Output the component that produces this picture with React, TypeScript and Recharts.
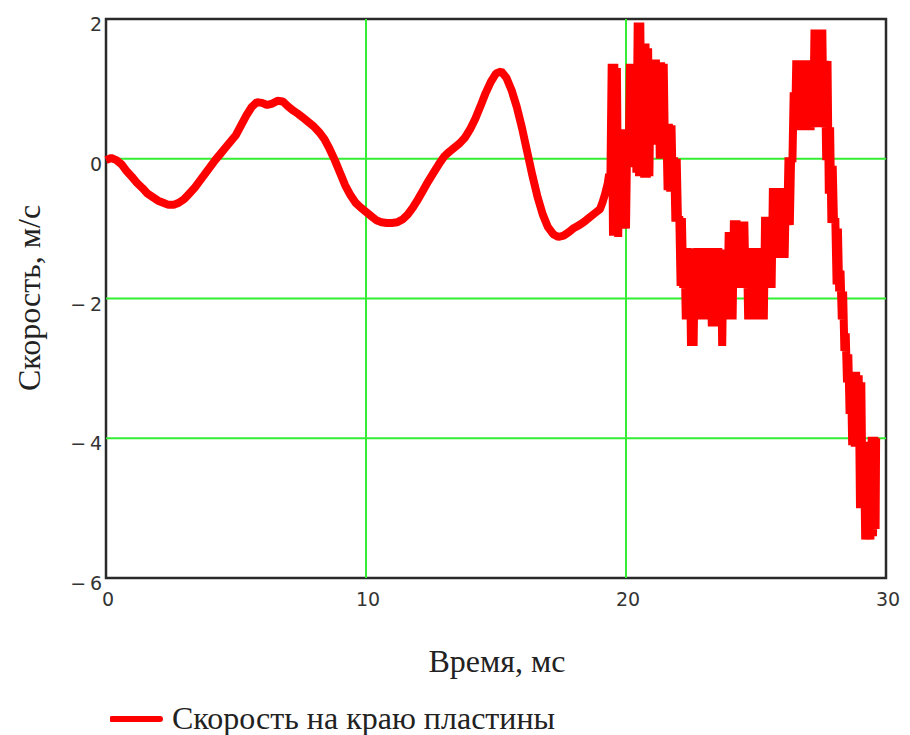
import { LineChart, Line, XAxis, YAxis, ReferenceLine, ReferenceArea, Legend } from 'recharts'

// скорость на краю пластины, [время мс, скорость м/с]
const wave: [number, number][] = [
  [0, -0.02], [0.2, 0.01], [0.4, -0.02], [0.6, -0.08], [0.8, -0.18], [1.0, -0.26], [1.2, -0.35],
  [1.4, -0.42], [1.6, -0.5], [1.8, -0.55], [2.0, -0.6], [2.2, -0.63], [2.4, -0.66], [2.6, -0.66],
  [2.8, -0.63], [3.0, -0.58], [3.2, -0.5], [3.4, -0.42], [3.6, -0.32], [3.8, -0.22], [4.0, -0.12],
  [4.2, -0.02], [4.4, 0.07], [4.6, 0.16], [4.8, 0.25], [5.0, 0.34], [5.2, 0.48], [5.4, 0.62],
  [5.6, 0.74], [5.8, 0.81], [6.0, 0.8], [6.2, 0.77], [6.4, 0.79], [6.6, 0.83], [6.8, 0.82],
  [7.0, 0.75], [7.2, 0.69], [7.4, 0.64], [7.6, 0.58], [7.8, 0.52], [8.0, 0.46], [8.2, 0.38],
  [8.4, 0.28], [8.6, 0.14], [8.8, -0.02], [9.0, -0.2], [9.2, -0.38], [9.4, -0.52], [9.6, -0.63],
  [9.8, -0.7], [10.0, -0.76], [10.2, -0.82], [10.4, -0.88], [10.6, -0.91], [10.8, -0.92],
  [11.0, -0.92], [11.2, -0.91], [11.4, -0.87], [11.6, -0.8], [11.8, -0.7], [12.0, -0.58],
  [12.2, -0.45], [12.4, -0.32], [12.6, -0.2], [12.8, -0.08], [13.0, 0.03], [13.2, 0.1],
  [13.4, 0.16], [13.6, 0.22], [13.8, 0.3], [14.0, 0.42], [14.2, 0.57], [14.4, 0.75], [14.6, 0.94],
  [14.8, 1.1], [15.0, 1.22], [15.2, 1.25], [15.4, 1.16], [15.6, 0.98], [15.8, 0.74], [16.0, 0.44],
  [16.2, 0.1], [16.4, -0.24], [16.6, -0.55], [16.8, -0.8], [17.0, -0.98], [17.2, -1.08],
  [17.4, -1.12], [17.6, -1.1], [17.8, -1.05], [18.0, -0.99], [18.2, -0.95], [18.4, -0.9],
  [18.6, -0.84], [18.8, -0.78], [19.0, -0.72],
]

const burst: [number, number][] = [
  [19.1, -0.62], [19.2, -0.5], [19.3, -0.35], [19.35, -0.22], [19.4, -0.3], [19.45, 1.36],
  [19.5, -1.1], [19.55, 1.36], [19.6, -1.1], [19.65, 1.3], [19.7, -1.12], [19.75, 0.3],
  [19.8, -1.0], [19.85, 0.42], [19.9, -1.0], [19.95, 0.4], [20.0, -1.0], [20.05, 0.4],
  [20.1, -0.1], [20.15, 1.36], [20.2, -0.1], [20.25, 1.36], [20.3, -0.12], [20.35, 1.36],
  [20.4, -0.2], [20.45, 1.95], [20.5, -0.25], [20.55, 1.95], [20.6, -0.25], [20.65, 1.6],
  [20.7, -0.27], [20.75, 1.65], [20.8, -0.27], [20.85, 1.58], [20.9, -0.25], [20.95, 1.42],
  [21.0, 0.2], [21.05, 1.42], [21.1, 0.2], [21.15, 1.42], [21.2, 0.22], [21.25, 1.38],
  [21.3, 0.0], [21.35, 1.38], [21.4, 0.0], [21.45, 1.36], [21.5, 0.02], [21.55, 0.5],
  [21.6, -0.45], [21.65, 0.5], [21.7, -0.47], [21.75, 0.48], [21.8, -0.47], [21.85, 0.02],
  [21.9, -0.9], [21.95, 0.0], [22.0, -0.9],
]

const descent: [number, number][] = [
  [22.05, -0.82], [22.1, -1.82], [22.15, -0.85], [22.2, -1.85], [22.25, -1.28], [22.3, -2.3],
  [22.35, -1.28], [22.4, -2.3], [22.45, -1.3], [22.5, -2.68], [22.55, -1.3], [22.6, -2.68],
  [22.65, -1.28],
]

const plateau: [number, number][] = [
  [22.7, -2.3], [22.75, -1.28], [22.8, -2.3], [22.85, -1.28], [22.9, -2.3], [22.95, -1.28],
  [23.0, -2.3], [23.05, -1.28], [23.1, -2.3], [23.15, -1.28], [23.2, -2.3], [23.25, -1.28],
  [23.3, -2.4], [23.35, -1.28], [23.4, -2.4], [23.45, -1.28], [23.5, -2.3], [23.55, -1.28],
  [23.6, -2.3], [23.65, -1.3], [23.7, -2.68], [23.75, -1.3], [23.8, -2.3], [23.85, -1.3],
  [23.9, -2.3], [23.95, -1.05], [24.0, -2.3], [24.05, -1.05], [24.1, -2.3], [24.15, -0.88],
  [24.2, -1.85], [24.25, -0.88], [24.3, -1.85], [24.35, -0.9], [24.4, -1.85], [24.45, -0.9],
  [24.5, -1.85], [24.55, -0.9], [24.6, -1.85], [24.65, -1.28], [24.7, -2.3], [24.75, -1.28],
  [24.8, -2.3], [24.85, -1.28], [24.9, -2.3], [24.95, -1.28], [25.0, -2.3], [25.05, -1.28],
  [25.1, -2.3], [25.15, -1.28], [25.2, -2.3], [25.25, -1.28], [25.3, -2.3], [25.35, -0.83],
  [25.4, -1.85], [25.45, -0.83], [25.5, -1.85], [25.55, -0.83], [25.6, -1.85], [25.65, -0.42],
  [25.7, -1.42], [25.75, -0.42], [25.8, -1.42], [25.85, -0.42], [25.9, -1.42], [25.95, -0.42],
  [26.0, -1.42], [26.05, -0.42], [26.1, -1.42], [26.15, -0.42], [26.2, -0.95], [26.25, 0.02],
  [26.3, -0.95], [26.35, 0.02],
]

const hump: [number, number][] = [
  [26.4, -0.05], [26.45, 0.95], [26.5, 0.41], [26.55, 1.41], [26.6, 0.41], [26.65, 1.41],
  [26.7, 0.41], [26.75, 1.41], [26.8, 0.41], [26.85, 1.41], [26.9, 0.41], [26.95, 1.41],
  [27.0, 0.41], [27.05, 1.41], [27.1, 0.41], [27.15, 1.41], [27.2, 0.45], [27.25, 1.85],
  [27.3, 0.84], [27.35, 1.85], [27.4, 0.84], [27.45, 1.85], [27.5, 0.45], [27.55, 1.85],
  [27.6, 0.45], [27.65, 1.4], [27.7, -0.02], [27.75, 1.4], [27.8, -0.5], [27.85, 0.45],
  [27.9, -0.92], [27.95, -0.1],
]

const fall: [number, number][] = [
  [28.0, -0.92], [28.05, -0.85], [28.1, -1.8], [28.15, -1.0], [28.2, -1.9], [28.25, -1.6],
  [28.3, -2.3], [28.35, -1.9], [28.4, -2.75], [28.45, -2.5], [28.5, -3.2], [28.55, -2.8],
  [28.6, -3.65], [28.65, -3.05], [28.7, -4.1], [28.75, -3.05], [28.8, -4.12], [28.85, -3.05],
  [28.9, -4.12], [28.95, -3.1], [29.0, -5.0], [29.05, -3.2], [29.1, -5.0], [29.15, -4.05],
  [29.2, -5.45], [29.25, -4.3], [29.3, -5.45], [29.35, -4.3], [29.4, -5.45], [29.45, -3.98],
  [29.5, -5.4], [29.55, -3.98], [29.6, -5.3], [29.62, -4.0],
]

const xTicks = [0, 10, 20, 30]
const yTicks = [-6, -4, -2, 0, 2]
const xGrid = [10, 20]
const yGrid = [-4, -2, 0]

const data = [...wave, ...burst, ...descent, ...plateau, ...hump, ...fall].map(([t, v]) => ({ t, v }))

const RED = '#ff0000'
const GRID = '#33ee33'
const INK = '#222'
const SERIF = '"Liberation Serif", "Times New Roman", serif'
const SANS = '"DejaVu Sans", Verdana, sans-serif'

const fmtY = (v: number) => (v < 0 ? `\u2212\u2009${-v}` : String(v))

function XTick({ x, y, payload }: any) {
  return (
    <text x={x + 2} y={y + 28} textAnchor="middle" fontSize={19} fontFamily={SANS} fill="#333">
      {payload.value}
    </text>
  )
}

function YTick({ x, y, payload }: any) {
  return (
    <text x={x} y={y + 12} textAnchor="end" fontSize={19} fontFamily={SANS} fill="#333">
      {fmtY(payload.value)}
    </text>
  )
}

function YTitle() {
  return (
    <text x={40} y={298} transform="rotate(-90 40 298)" textAnchor="middle" fontSize={32}
      fontFamily={SERIF} fill={INK}>
      Скорость, м/с
    </text>
  )
}

function XTitle() {
  return (
    <text x={497} y={672} textAnchor="middle" fontSize={32} fontFamily={SERIF} fill={INK}>
      Время, мс
    </text>
  )
}

function LegendBox() {
  return (
    <div style={{ display: 'flex', alignItems: 'center', fontFamily: SERIF, fontSize: 32, color: INK }}>
      <svg width={60} height={12} style={{ marginLeft: 110 }}>
        <line x1={2} y1={6} x2={50} y2={6} stroke={RED} strokeWidth={6} strokeLinecap="round" />
      </svg>
      <span style={{ marginLeft: 2 }}>Скорость на краю пластины</span>
    </div>
  )
}

export default function App() {
  return (
    <div style={{ position: 'absolute', left: 0, top: 0, background: '#fff' }}>
      <LineChart width={910} height={735} data={data} margin={{ top: 19, right: 24, bottom: 127, left: 0 }}>
        <XAxis dataKey="t" type="number" domain={[0, 30]} ticks={xTicks} height={30}
          axisLine={false} tickLine={false} tickSize={0} tickMargin={0} tick={<XTick />}
          label={<XTitle />} />
        <YAxis type="number" domain={[-6, 2]} ticks={yTicks} width={106}
          axisLine={false} tickLine={false} tickSize={0} tickMargin={4} tick={<YTick />}
          label={<YTitle />} />
        {xGrid.map(v => <ReferenceLine key={'x' + v} x={v} stroke={GRID} strokeWidth={2} />)}
        {yGrid.map(v => <ReferenceLine key={'y' + v} y={v} stroke={GRID} strokeWidth={2} />)}
        <ReferenceArea x1={0} x2={30} y1={-6} y2={2} fill="none" stroke="#2a2a2a" strokeWidth={2.5} />
        <Line dataKey="v" type="linear" stroke={RED} strokeWidth={8} dot={false}
          strokeLinejoin="bevel" isAnimationActive={false} />
        <Legend layout="horizontal" verticalAlign="middle" align="center" content={<LegendBox />}
          wrapperStyle={{ left: 0, top: 700, width: 700 }} />
      </LineChart>
    </div>
  )
}
